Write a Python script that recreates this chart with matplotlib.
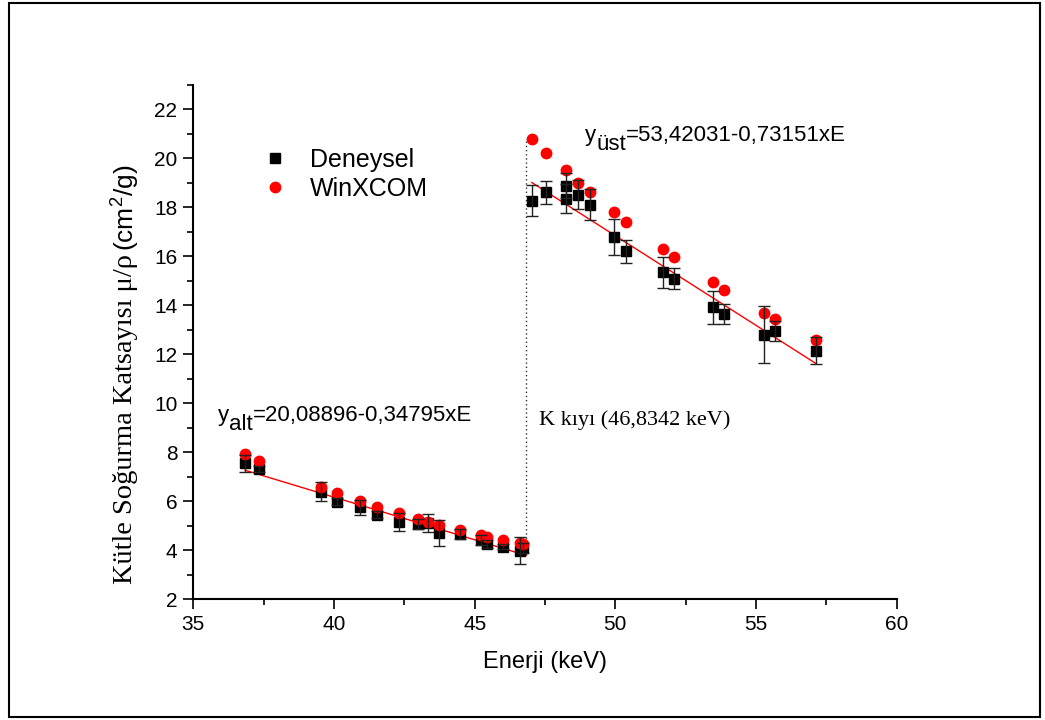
import matplotlib

matplotlib.use("Agg")
import matplotlib.pyplot as plt
from matplotlib.patches import Rectangle
from matplotlib.ticker import MultipleLocator
import numpy as np

# Deneysel (experimental) points below and above the K edge
e_alt = [36.84, 37.35, 39.53, 40.12, 40.91, 41.54, 42.30, 43.00, 43.35, 43.74,
         44.48, 45.22, 45.43, 46.00, 46.60, 46.73]
mu_alt = [7.56, 7.32, 6.40, 5.99, 5.76, 5.45, 5.17, 5.08, 5.10, 4.70,
          4.66, 4.42, 4.26, 4.15, 3.99, 4.08]
err_alt = [0.35, 0.12, 0.39, 0.15, 0.30, 0.15, 0.36, 0.20, 0.37, 0.53,
           0.20, 0.20, 0.15, 0.10, 0.55, 0.20]
e_ust = [47.03, 47.53, 48.24, 48.24, 48.68, 49.10, 49.95, 50.37, 51.68, 52.09,
         53.48, 53.87, 55.28, 55.67, 57.13]
mu_ust = [18.28, 18.62, 18.89, 18.36, 18.52, 18.11, 16.79, 16.21, 15.35, 15.08,
          13.93, 13.65, 12.80, 12.96, 12.15]
err_ust = [0.65, 0.46, 0.50, 0.60, 0.58, 0.63, 0.72, 0.48, 0.63, 0.43,
           0.67, 0.41, 1.17, 0.40, 0.55]

# WinXCOM theoretical values
wx_e = [36.84, 37.35, 39.53, 40.12, 40.91, 41.54, 42.30, 43.00, 43.35, 43.74,
        44.48, 45.22, 45.43, 46.00, 46.60, 46.73,
        47.03, 47.53, 48.24, 48.68, 49.10, 49.95, 50.37, 51.68, 52.09,
        53.48, 53.87, 55.28, 55.67, 57.13]
wx_mu = [7.93, 7.65, 6.60, 6.33, 6.02, 5.76, 5.51, 5.27, 5.15, 5.04,
         4.83, 4.63, 4.53, 4.42, 4.29, 4.26,
         20.80, 20.23, 19.52, 19.00, 18.62, 17.80, 17.41, 16.30, 15.98,
         14.94, 14.64, 13.71, 13.45, 12.60]

# linear fits
fit_alt = (20.08896, -0.34795)
fit_ust = (53.42031, -0.73151)
k_edge = 46.8342

SANS = "Liberation Sans"
SERIF = "Liberation Serif"
plt.rcParams["font.family"] = SANS
plt.rcParams["mathtext.fontset"] = "custom"
plt.rcParams["mathtext.rm"] = SANS
plt.rcParams["mathtext.it"] = SANS

fig = plt.figure(figsize=(10.45, 7.2), dpi=100)
ax = fig.add_axes([0.185, 0.1676, 0.673, 0.7144])

e_exp = e_alt + e_ust
mu_exp = mu_alt + mu_ust
ax.plot(e_exp, mu_exp, "s", color="black", ms=7.5, ls="none", label="Deneysel", zorder=3)
ax.plot(wx_e, wx_mu, "o", color="red", ms=7.5, mec="red", ls="none", label="WinXCOM", zorder=4)
ax.errorbar(e_exp, mu_exp, yerr=err_alt + err_ust, fmt="none", ecolor="#222222",
            elinewidth=1, capsize=4, capthick=1, zorder=5)

xa = np.array([e_alt[0], k_edge])
ax.plot(xa, fit_alt[0] + fit_alt[1] * xa, color="red", lw=1, zorder=2)
xu = np.array([wx_e[16], e_ust[-1]])
ax.plot(xu, fit_ust[0] + fit_ust[1] * xu, color="red", lw=1, zorder=2)
ax.plot([k_edge, k_edge], [fit_alt[0] + fit_alt[1] * k_edge, wx_mu[16]],
        color="#333333", ls=(0, (1, 2)), lw=1, zorder=1)


def eq_text(x, y, sub, rest, size=16, drop=6.5):
    t = ax.text(x, y, "y", fontsize=size, va="baseline")
    s = ax.annotate(sub, xy=(1, 0), xycoords=t, xytext=(0, -drop),
                    textcoords="offset points", fontsize=size, va="bottom")
    ax.annotate(rest, xy=(1, 0), xycoords=s, xytext=(0, drop),
                textcoords="offset points", fontsize=size, va="bottom")


eq_text(35.88, 9.29, "alt", "=20,08896-0,34795xE")
eq_text(48.92, 20.73, "üst", "=53,42031-0,73151xE")
ax.text(47.30, 9.12, "K kıyı (46,8342 keV)", fontsize=16, family=SERIF, va="baseline")

ax.set_xlim(35, 60)
ax.set_ylim(2, 23)
ax.xaxis.set_major_locator(MultipleLocator(5))
ax.xaxis.set_minor_locator(MultipleLocator(2.5))
ax.yaxis.set_major_locator(MultipleLocator(2))
ax.yaxis.set_minor_locator(MultipleLocator(1))
ax.tick_params(which="major", direction="out", length=7.5, width=1.2, labelsize=15, pad=4)
ax.tick_params(which="minor", direction="out", length=4, width=1.2)
for sp in ["top", "right"]:
    ax.spines[sp].set_visible(False)
for sp in ["left", "bottom"]:
    ax.spines[sp].set_linewidth(1.5)

ax.set_xlabel("Enerji (keV)", fontsize=17)
ax.xaxis.set_label_coords(0.5, -0.10)
fig.text(0.12, 1 - 584 / 720, "Kütle Soğurma Katsayısı μ/ρ", family=SERIF, fontsize=20.5,
         rotation=90, ha="center", va="bottom")
fig.text(0.12, 1 - 251 / 720, "(cm$^2$/g)", fontsize=19, rotation=90, ha="center", va="bottom")

ax.legend(loc="upper left", bbox_to_anchor=(240 / 1045, 1 - 125 / 720),
          bbox_transform=fig.transFigure, frameon=False, fontsize=18,
          handlelength=1.0, handletextpad=0.9, labelspacing=0.2, borderpad=0.4)

fig.patches.append(Rectangle((9 / 1045, 3 / 720), 1031 / 1045, 714 / 720,
                             transform=fig.transFigure, fill=False, lw=1.5, ec="black"))

fig.savefig("out.png", dpi=100)
